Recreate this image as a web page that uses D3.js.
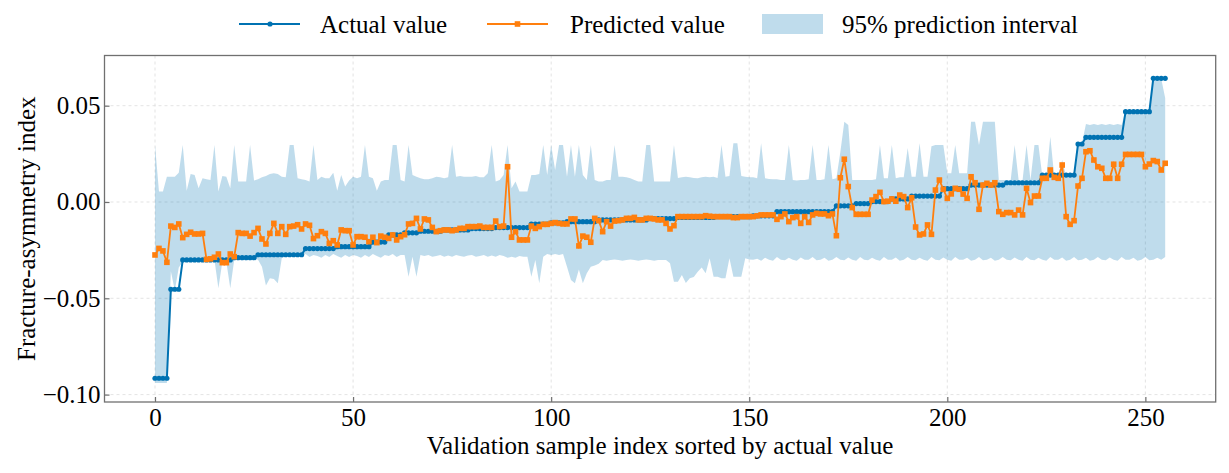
<!DOCTYPE html>
<html><head><meta charset="utf-8">
<script src="https://cdn.jsdelivr.net/npm/d3@7"></script>
<style>body{margin:0;background:#fff}svg{display:block}</style>
</head><body>
<svg id="chart" width="1229" height="473"></svg>
<script>
// ---- data ----
const actual = [
-0.0915,-0.0915,-0.0915,-0.0915,-0.0453,-0.0453,-0.0453,-0.0301,-0.0301,-0.0301,
-0.0301,-0.0301,-0.0301,-0.0301,-0.0301,-0.0301,-0.0301,-0.0301,-0.0301,-0.0301,
-0.0289,-0.0289,-0.0289,-0.0289,-0.0289,-0.0289,-0.0274,-0.0274,-0.0274,-0.0274,
-0.0274,-0.0274,-0.0274,-0.0274,-0.0274,-0.0274,-0.0274,-0.0274,-0.0242,-0.0242,
-0.0242,-0.0242,-0.0242,-0.0242,-0.0242,-0.0242,-0.0232,-0.0232,-0.0232,-0.0232,
-0.0232,-0.0232,-0.0232,-0.0232,-0.0232,-0.0208,-0.0208,-0.0208,-0.0208,-0.0171,
-0.0171,-0.0171,-0.0171,-0.0160,-0.0160,-0.0160,-0.0160,-0.0152,-0.0152,-0.0152,
-0.0152,-0.0152,-0.0152,-0.0145,-0.0145,-0.0145,-0.0145,-0.0145,-0.0145,-0.0145,
-0.0138,-0.0138,-0.0138,-0.0138,-0.0138,-0.0138,-0.0133,-0.0133,-0.0133,-0.0133,
-0.0133,-0.0133,-0.0133,-0.0133,-0.0133,-0.0115,-0.0115,-0.0115,-0.0115,-0.0115,
-0.0108,-0.0108,-0.0108,-0.0108,-0.0102,-0.0102,-0.0102,-0.0102,-0.0102,-0.0102,
-0.0102,-0.0102,-0.0093,-0.0093,-0.0093,-0.0093,-0.0093,-0.0093,-0.0093,-0.0093,
-0.0093,-0.0093,-0.0093,-0.0093,-0.0093,-0.0086,-0.0086,-0.0086,-0.0086,-0.0086,
-0.0086,-0.0086,-0.0080,-0.0080,-0.0080,-0.0080,-0.0080,-0.0080,-0.0080,-0.0080,
-0.0080,-0.0080,-0.0076,-0.0076,-0.0076,-0.0076,-0.0076,-0.0076,-0.0076,-0.0076,
-0.0076,-0.0072,-0.0072,-0.0072,-0.0072,-0.0072,-0.0072,-0.0050,-0.0050,-0.0050,
-0.0050,-0.0050,-0.0050,-0.0050,-0.0050,-0.0050,-0.0050,-0.0050,-0.0050,-0.0050,
-0.0050,-0.0050,-0.0020,-0.0020,-0.0020,-0.0020,-0.0020,-0.0008,-0.0008,-0.0008,
-0.0008,0.0002,0.0002,0.0002,0.0002,0.0002,0.0016,0.0016,0.0016,0.0016,
0.0016,0.0031,0.0031,0.0031,0.0031,0.0031,0.0031,0.0031,0.0031,0.0069,
0.0069,0.0069,0.0069,0.0069,0.0069,0.0069,0.0088,0.0088,0.0088,0.0088,
0.0088,0.0088,0.0088,0.0088,0.0088,0.0100,0.0100,0.0100,0.0100,0.0100,
0.0100,0.0100,0.0100,0.0100,0.0140,0.0140,0.0140,0.0140,0.0140,0.0140,
0.0140,0.0140,0.0140,0.0301,0.0301,0.0336,0.0336,0.0336,0.0336,0.0336,
0.0336,0.0336,0.0336,0.0336,0.0336,0.0469,0.0469,0.0469,0.0469,0.0469,
0.0469,0.0469,0.0642,0.0642,0.0642,0.0642
];
const predicted = [
-0.0275,-0.0241,-0.0254,-0.0313,-0.0125,-0.0132,-0.0114,-0.0185,-0.0168,-0.0157,
-0.0166,-0.0166,-0.0163,-0.0298,-0.0295,-0.0287,-0.0270,-0.0315,-0.0315,-0.0270,
-0.0284,-0.0159,-0.0163,-0.0163,-0.0177,-0.0159,-0.0137,-0.0192,-0.0218,-0.0163,
-0.0111,-0.0163,-0.0128,-0.0168,-0.0128,-0.0125,-0.0118,-0.0140,-0.0114,-0.0121,
-0.0190,-0.0175,-0.0154,-0.0163,-0.0215,-0.0201,-0.0223,-0.0145,-0.0149,-0.0149,
-0.0223,-0.0180,-0.0180,-0.0183,-0.0206,-0.0183,-0.0211,-0.0177,-0.0183,-0.0189,
-0.0171,-0.0197,-0.0180,-0.0170,-0.0114,-0.0111,-0.0085,-0.0140,-0.0088,-0.0093,
-0.0132,-0.0154,-0.0149,-0.0145,-0.0145,-0.0149,-0.0145,-0.0137,-0.0137,-0.0128,
-0.0128,-0.0128,-0.0125,-0.0132,-0.0132,-0.0132,-0.0099,-0.0128,-0.0125,0.0183,
-0.0183,-0.0154,-0.0197,-0.0197,-0.0197,-0.0125,-0.0137,-0.0128,-0.0116,-0.0116,
-0.0111,-0.0107,-0.0111,-0.0114,-0.0114,-0.0088,-0.0088,-0.0228,-0.0177,-0.0183,
-0.0209,-0.0085,-0.0097,-0.0154,-0.0102,-0.0125,-0.0099,-0.0097,-0.0093,-0.0085,
-0.0085,-0.0080,-0.0093,-0.0093,-0.0085,-0.0085,-0.0088,-0.0093,-0.0093,-0.0111,
-0.0140,-0.0123,-0.0076,-0.0076,-0.0076,-0.0076,-0.0076,-0.0076,-0.0076,-0.0071,
-0.0074,-0.0076,-0.0076,-0.0076,-0.0076,-0.0076,-0.0081,-0.0081,-0.0076,-0.0076,
-0.0076,-0.0076,-0.0072,-0.0067,-0.0067,-0.0067,-0.0067,-0.0090,-0.0076,-0.0062,
-0.0102,-0.0081,-0.0076,-0.0111,-0.0076,-0.0106,-0.0067,-0.0059,-0.0062,-0.0062,
-0.0071,-0.0062,-0.0175,0.0126,0.0222,0.0080,-0.0029,-0.0064,-0.0064,-0.0064,
-0.0064,0.0010,0.0028,0.0050,0.0002,0.0004,0.0016,0.0004,0.0036,0.0028,
-0.0029,0.0022,-0.0130,-0.0171,-0.0166,-0.0119,-0.0168,0.0062,0.0114,0.0066,
0.0019,0.0042,0.0071,0.0066,0.0041,0.0019,0.0131,0.0100,-0.0038,0.0088,
0.0097,0.0088,0.0100,-0.0050,-0.0064,-0.0055,-0.0055,-0.0067,-0.0042,-0.0067,
0.0071,-0.0003,0.0031,0.0031,0.0123,0.0123,0.0166,0.0128,0.0123,0.0192,
-0.0076,-0.0116,-0.0097,0.0083,0.0123,0.0261,0.0266,0.0218,0.0183,0.0175,
0.0123,0.0123,0.0196,0.0123,0.0196,0.0247,0.0247,0.0247,0.0247,0.0247,
0.0183,0.0197,0.0215,0.0210,0.0166,0.0201
];
const upper = [
0.0296,0.0054,0.0055,0.0131,0.0131,0.0131,0.0152,0.0296,0.0059,0.0145,
0.0140,0.0071,0.0123,0.0118,0.0114,0.0296,0.0055,0.0135,0.0131,0.0071,
0.0296,0.0106,0.0106,0.0106,0.0296,0.0111,0.0118,0.0128,0.0135,0.0145,
0.0149,0.0145,0.0131,0.0128,0.0296,0.0296,0.0123,0.0118,0.0114,0.0106,
0.0296,0.0114,0.0131,0.0123,0.0123,0.0152,0.0059,0.0140,0.0080,0.0111,
0.0131,0.0123,0.0131,0.0296,0.0131,0.0123,0.0059,0.0106,0.0114,0.0114,
0.0296,0.0296,0.0114,0.0106,0.0296,0.0140,0.0131,0.0123,0.0118,0.0118,
0.0123,0.0131,0.0128,0.0123,0.0128,0.0296,0.0131,0.0135,0.0131,0.0131,
0.0131,0.0135,0.0128,0.0128,0.0149,0.0296,0.0106,0.0114,0.0140,0.0296,
0.0071,0.0106,0.0054,0.0054,0.0054,0.0140,0.0140,0.0145,0.0296,0.0140,
0.0296,0.0166,0.0296,0.0296,0.0131,0.0296,0.0131,0.0296,0.0140,0.0114,
0.0296,0.0114,0.0106,0.0106,0.0114,0.0114,0.0296,0.0131,0.0131,0.0128,
0.0123,0.0114,0.0106,0.0106,0.0296,0.0296,0.0106,0.0106,0.0106,0.0106,
0.0106,0.0296,0.0125,0.0128,0.0131,0.0128,0.0125,0.0123,0.0128,0.0131,
0.0128,0.0131,0.0125,0.0296,0.0131,0.0135,0.0305,0.0305,0.0135,0.0131,
0.0128,0.0128,0.0123,0.0305,0.0123,0.0120,0.0118,0.0118,0.0114,0.0114,
0.0296,0.0114,0.0111,0.0114,0.0114,0.0118,0.0296,0.0114,0.0114,0.0118,
0.0296,0.0118,0.0123,0.0260,0.0417,0.0400,0.0114,0.0114,0.0114,0.0114,
0.0114,0.0114,0.0118,0.0296,0.0123,0.0123,0.0296,0.0123,0.0128,0.0128,
0.0280,0.0131,0.0131,0.0305,0.0131,0.0131,0.0290,0.0296,0.0296,0.0296,
0.0149,0.0149,0.0296,0.0149,0.0149,0.0149,0.0417,0.0417,0.0296,0.0417,
0.0417,0.0417,0.0417,0.0114,0.0114,0.0114,0.0114,0.0296,0.0114,0.0114,
0.0296,0.0114,0.0296,0.0296,0.0131,0.0131,0.0339,0.0131,0.0140,0.0218,
0.0131,0.0140,0.0149,0.0296,0.0306,0.0405,0.0400,0.0405,0.0400,0.0405,
0.0400,0.0405,0.0400,0.0405,0.0400,0.0475,0.0475,0.0475,0.0475,0.0475,
0.0475,0.0475,0.0650,0.0650,0.0640,0.0540
];
const lower = [
-0.0940,-0.0940,-0.0940,-0.0940,-0.0360,-0.0460,-0.0340,-0.0310,-0.0305,-0.0310,
-0.0305,-0.0310,-0.0305,-0.0310,-0.0305,-0.0300,-0.0448,-0.0310,-0.0310,-0.0448,
-0.0300,-0.0292,-0.0295,-0.0292,-0.0295,-0.0292,-0.0300,-0.0336,-0.0434,-0.0396,
-0.0400,-0.0422,-0.0292,-0.0280,-0.0275,-0.0285,-0.0275,-0.0280,-0.0270,-0.0285,
-0.0275,-0.0280,-0.0290,-0.0275,-0.0285,-0.0270,-0.0280,-0.0290,-0.0275,-0.0285,
-0.0275,-0.0280,-0.0290,-0.0275,-0.0285,-0.0270,-0.0280,-0.0290,-0.0275,-0.0280,
-0.0270,-0.0285,-0.0275,-0.0275,-0.0388,-0.0284,-0.0388,-0.0275,-0.0280,-0.0275,
-0.0284,-0.0280,-0.0275,-0.0284,-0.0278,-0.0284,-0.0275,-0.0280,-0.0284,-0.0278,
-0.0275,-0.0284,-0.0280,-0.0275,-0.0284,-0.0278,-0.0284,-0.0275,-0.0280,-0.0290,
-0.0284,-0.0290,-0.0280,-0.0284,-0.0284,-0.0388,-0.0301,-0.0422,-0.0284,-0.0270,
-0.0275,-0.0270,-0.0275,-0.0270,-0.0336,-0.0405,-0.0422,-0.0350,-0.0422,-0.0370,
-0.0336,-0.0330,-0.0320,-0.0301,-0.0305,-0.0301,-0.0298,-0.0301,-0.0305,-0.0301,
-0.0298,-0.0301,-0.0305,-0.0301,-0.0298,-0.0301,-0.0305,-0.0301,-0.0301,-0.0301,
-0.0318,-0.0414,-0.0414,-0.0379,-0.0420,-0.0396,-0.0390,-0.0362,-0.0340,-0.0370,
-0.0292,-0.0388,-0.0388,-0.0396,-0.0396,-0.0292,-0.0388,-0.0388,-0.0388,-0.0292,
-0.0298,-0.0300,-0.0295,-0.0305,-0.0290,-0.0300,-0.0305,-0.0285,-0.0300,-0.0302,
-0.0290,-0.0300,-0.0305,-0.0288,-0.0300,-0.0300,-0.0285,-0.0302,-0.0300,-0.0290,
-0.0305,-0.0300,-0.0285,-0.0300,-0.0302,-0.0288,-0.0300,-0.0305,-0.0285,-0.0300,
-0.0302,-0.0290,-0.0300,-0.0305,-0.0285,-0.0300,-0.0300,-0.0288,-0.0305,-0.0300,
-0.0285,-0.0300,-0.0302,-0.0290,-0.0300,-0.0305,-0.0285,-0.0300,-0.0302,-0.0288,
-0.0300,-0.0305,-0.0285,-0.0300,-0.0300,-0.0290,-0.0305,-0.0300,-0.0285,-0.0302,
-0.0300,-0.0290,-0.0305,-0.0300,-0.0285,-0.0300,-0.0302,-0.0288,-0.0300,-0.0305,
-0.0285,-0.0300,-0.0302,-0.0290,-0.0300,-0.0305,-0.0285,-0.0300,-0.0300,-0.0288,
-0.0305,-0.0300,-0.0285,-0.0302,-0.0300,-0.0290,-0.0305,-0.0300,-0.0285,-0.0300,
-0.0302,-0.0288,-0.0300,-0.0305,-0.0285,-0.0300,-0.0300,-0.0290,-0.0305,-0.0300,
-0.0285,-0.0302,-0.0300,-0.0290,-0.0300,-0.0285
];
const xTicks = [0, 50, 100, 150, 200, 250];
const yTicks = [-0.10, -0.05, 0.00, 0.05];
const legendLabels = ["Actual value", "Predicted value", "95% prediction interval"];
const xLabel = "Validation sample index sorted by actual value";
const yLabel = "Fracture-asymmetry index";

// ---- layout & style ----
const FONT = "'Liberation Serif','Times New Roman',Times,serif";
const BLUE = "#0072B2", ORANGE = "#FF7F0E", SPINE = "#707070";
const box = {left: 104.5, right: 1215.7, top: 55.5, bottom: 402};
const svg = d3.select("#chart");

const x = d3.scaleLinear().domain([-12.75, 267.75]).range([box.left, box.right]);
const y = d3.scaleLinear().domain([-0.10384, 0.07606]).range([box.bottom, box.top]);

const rows = actual.map((a, i) => ({i, a, p: predicted[i], lo: lower[i], hi: upper[i]}));

// grid
const grid = svg.append("g").attr("stroke", "#dcdcdc").attr("stroke-width", 0.8).attr("stroke-dasharray", "3,3");
grid.selectAll("line.gx").data(xTicks).join("line")
  .attr("x1", d => x(d)).attr("x2", d => x(d)).attr("y1", box.top).attr("y2", box.bottom);
grid.selectAll("line.gy").data(yTicks).join("line")
  .attr("x1", box.left).attr("x2", box.right).attr("y1", d => y(d)).attr("y2", d => y(d));

// band
svg.append("path").datum(rows)
  .attr("fill", BLUE).attr("fill-opacity", 0.25)
  .attr("d", d3.area().x(d => x(d.i)).y0(d => y(d.lo)).y1(d => y(d.hi)));

// actual line
svg.append("path").datum(rows).attr("fill", "none").attr("stroke", BLUE).attr("stroke-width", 2)
  .attr("d", d3.line().x(d => x(d.i)).y(d => y(d.a)));
svg.append("g").selectAll("circle").data(rows).join("circle")
  .attr("cx", d => x(d.i)).attr("cy", d => y(d.a)).attr("r", 2.6).attr("fill", BLUE);

// predicted line
svg.append("path").datum(rows).attr("fill", "none").attr("stroke", ORANGE).attr("stroke-width", 1.8)
  .attr("d", d3.line().x(d => x(d.i)).y(d => y(d.p)));
const sq = 5.6;
svg.append("g").selectAll("rect").data(rows).join("rect")
  .attr("x", d => x(d.i) - sq / 2).attr("y", d => y(d.p) - sq / 2)
  .attr("width", sq).attr("height", sq).attr("fill", ORANGE);

// axes
const fmt = d3.format(".2f");
const gx = svg.append("g").attr("transform", `translate(0,${box.bottom})`)
  .call(d3.axisBottom(x).tickValues(xTicks).tickSize(-5).tickPadding(6));
const gy = svg.append("g").attr("transform", `translate(${box.left},0)`)
  .call(d3.axisLeft(y).tickValues(yTicks).tickFormat(fmt).tickSize(-5).tickPadding(4));
[gx, gy].forEach(g => {
  g.select(".domain").remove();
  g.selectAll(".tick line").attr("stroke", SPINE).attr("stroke-width", 1.2);
  g.selectAll(".tick text").attr("fill", "#000").style("font-family", FONT).style("font-size", "25px");
});

// spines
svg.append("rect").attr("x", box.left).attr("y", box.top)
  .attr("width", box.right - box.left).attr("height", box.bottom - box.top)
  .attr("fill", "none").attr("stroke", SPINE).attr("stroke-width", 1.3);

// axis labels
svg.append("text").attr("x", (box.left + box.right) / 2).attr("y", 454)
  .attr("text-anchor", "middle").style("font-family", FONT).style("font-size", "25px").text(xLabel);
svg.append("text").attr("transform", `translate(35,${(box.top + box.bottom) / 2}) rotate(-90)`)
  .attr("text-anchor", "middle").style("font-family", FONT).style("font-size", "25px").text(yLabel);

// legend
const lg = svg.append("g");
const ly = 24;
lg.append("line").attr("x1", 239).attr("x2", 300).attr("y1", ly).attr("y2", ly).attr("stroke", BLUE).attr("stroke-width", 2);
lg.append("circle").attr("cx", 270).attr("cy", ly).attr("r", 2.6).attr("fill", BLUE);
lg.append("text").attr("x", 320).attr("y", 33).text(legendLabels[0]);
lg.append("line").attr("x1", 487).attr("x2", 548).attr("y1", ly).attr("y2", ly).attr("stroke", ORANGE).attr("stroke-width", 1.8);
lg.append("rect").attr("x", 517.5 - sq / 2).attr("y", ly - sq / 2).attr("width", sq).attr("height", sq).attr("fill", ORANGE);
lg.append("text").attr("x", 570).attr("y", 33).text(legendLabels[1]);
lg.append("rect").attr("x", 762).attr("y", 14).attr("width", 61).attr("height", 20).attr("fill", BLUE).attr("fill-opacity", 0.25);
lg.append("text").attr("x", 842).attr("y", 33).text(legendLabels[2]);
lg.selectAll("text").style("font-family", FONT).style("font-size", "25px").attr("fill", "#000");
</script>
</body></html>
